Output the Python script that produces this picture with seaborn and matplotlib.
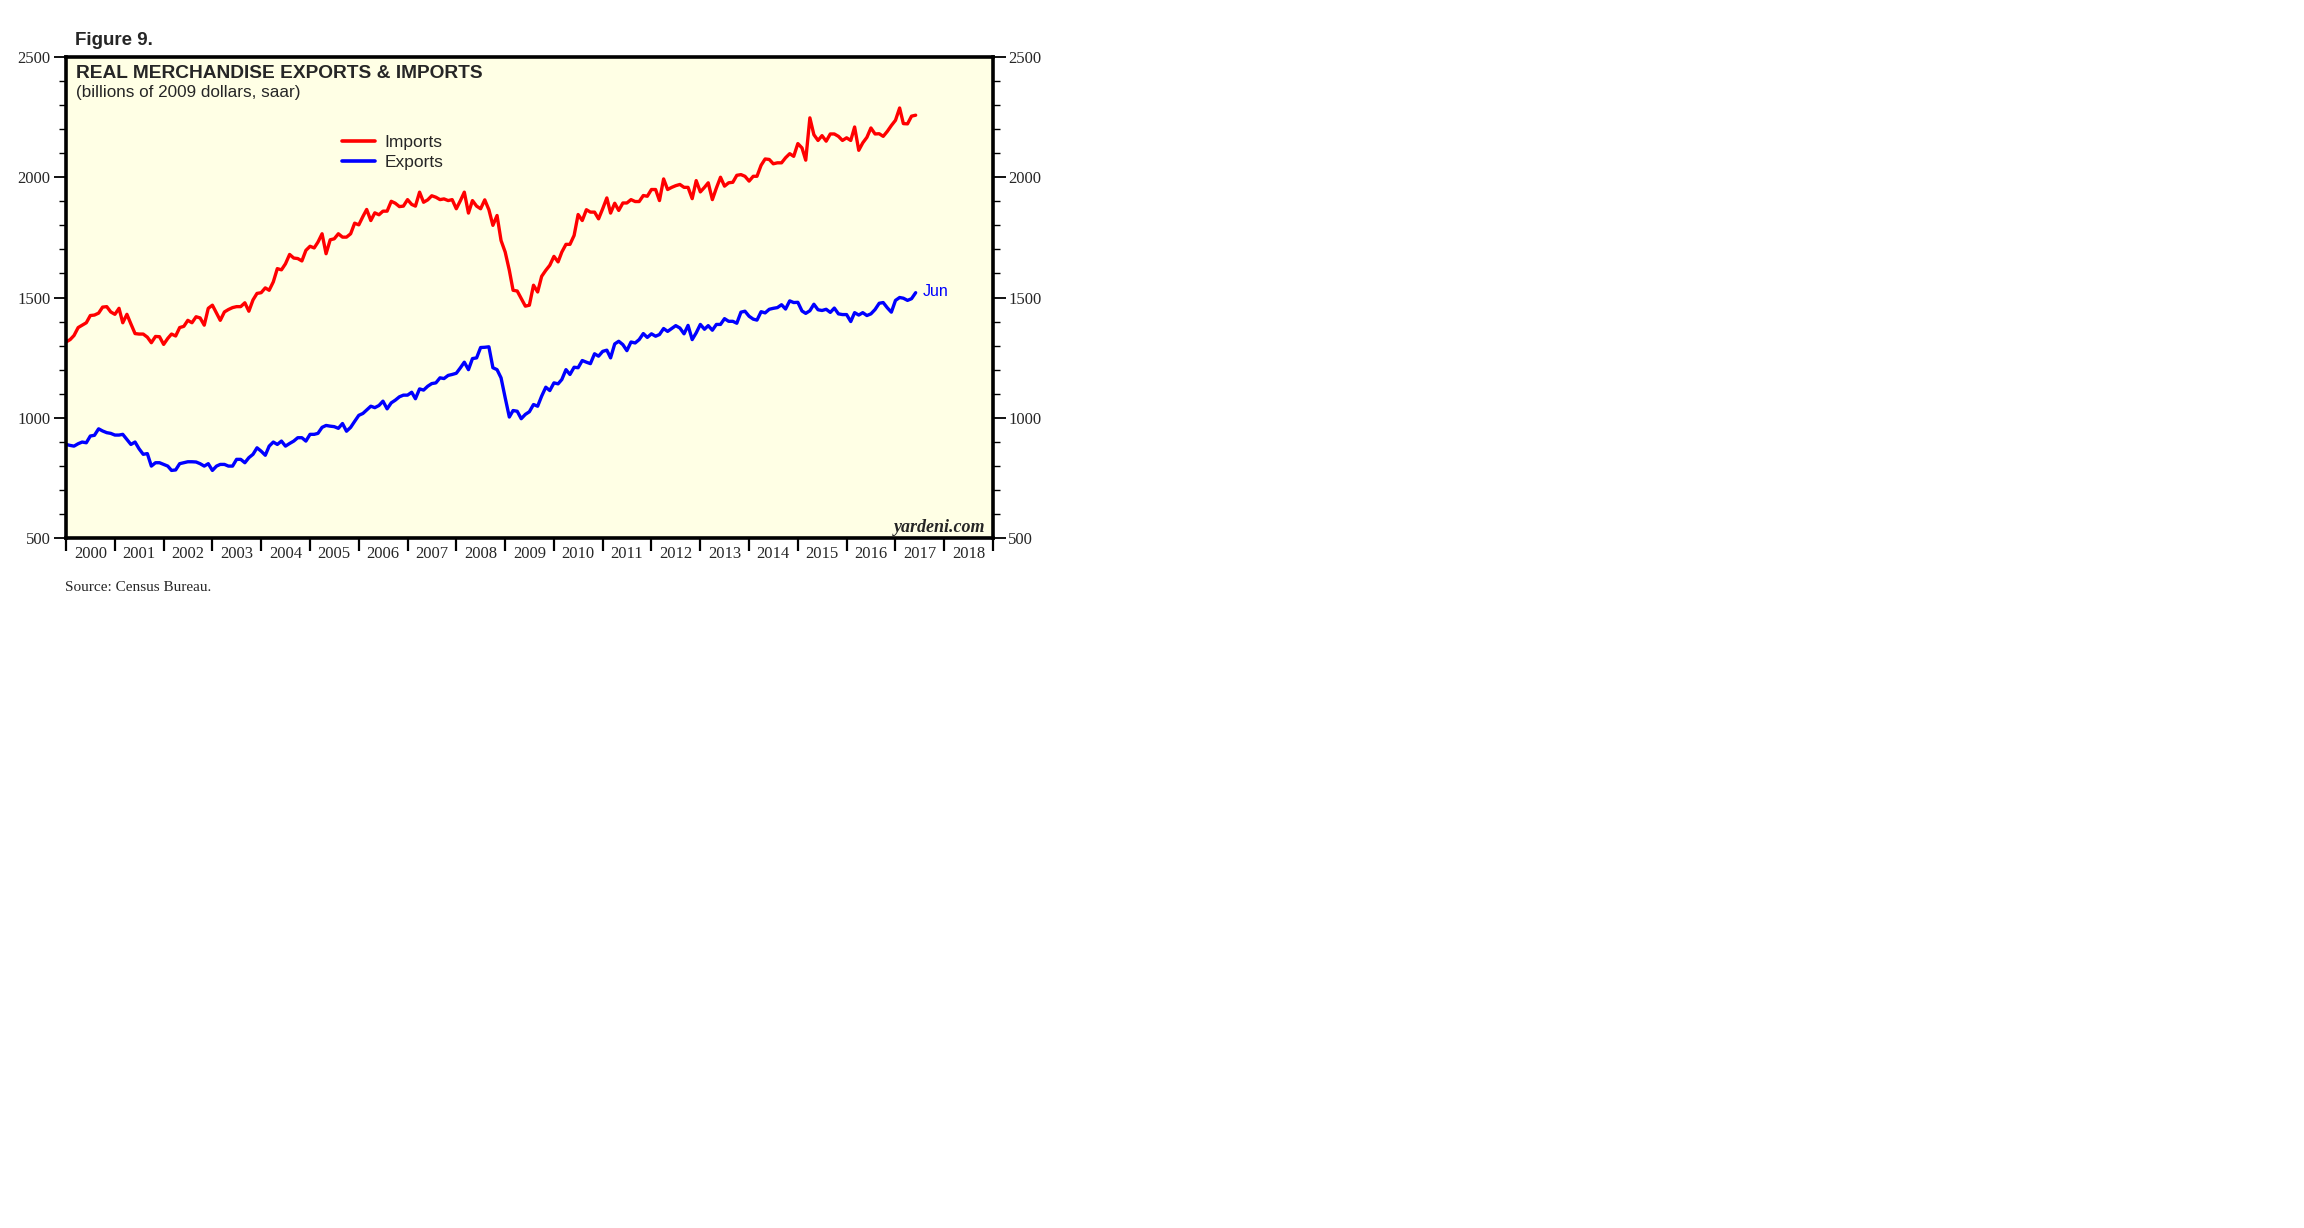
import pandas as pd
import seaborn as sns
import matplotlib.pyplot as plt
import matplotlib.dates as mdates
from matplotlib.ticker import MultipleLocator, NullFormatter

# monthly data, Jan 2000 - Jun 2017 (billions of 2009 dollars, saar)
months = pd.date_range('2000-01-01', '2017-06-01', freq='MS')

imports = [
    1315, 1325, 1342, 1375, 1385, 1395, 1425, 1427, 1435, 1460, 1462, 1440,  # 2000
    1430, 1455, 1395, 1430, 1390, 1350, 1348, 1348, 1335, 1312, 1338, 1337,  # 2001
    1305, 1330, 1348, 1340, 1375, 1380, 1405, 1395, 1420, 1415, 1385, 1455,  # 2002
    1468, 1435, 1405, 1440, 1450, 1458, 1462, 1462, 1478, 1443, 1490, 1517,  # 2003
    1520, 1540, 1530, 1565, 1620, 1615, 1640, 1679, 1664, 1662, 1652, 1696,  # 2004
    1713, 1706, 1730, 1765, 1682, 1740, 1744, 1765, 1751, 1751, 1765, 1809,  # 2005
    1802, 1837, 1866, 1820, 1852, 1844, 1859, 1859, 1900, 1892, 1878, 1880,  # 2006
    1907, 1887, 1880, 1938, 1896, 1906, 1923, 1917, 1907, 1910, 1903, 1907,  # 2007
    1869, 1903, 1938, 1851, 1903, 1880, 1869, 1906, 1865, 1800, 1841, 1737,  # 2008
    1689, 1613, 1530, 1527, 1496, 1464, 1468, 1551, 1523, 1588, 1613, 1634,  # 2009
    1671, 1648, 1689, 1721, 1721, 1758, 1845, 1820, 1865, 1855, 1855, 1827,  # 2010
    1869, 1914, 1851, 1892, 1862, 1893, 1893, 1907, 1899, 1899, 1924, 1921,  # 2011
    1949, 1949, 1903, 1993, 1949, 1958, 1965, 1970, 1958, 1958, 1911, 1986,  # 2012
    1939, 1958, 1977, 1907, 1955, 2000, 1963, 1977, 1979, 2008, 2011, 2004,  # 2013
    1984, 2004, 2004, 2050, 2076, 2074, 2056, 2060, 2060, 2081, 2098, 2087,  # 2014
    2140, 2122, 2071, 2247, 2177, 2153, 2173, 2150, 2180, 2180, 2170, 2153,  # 2015
    2164, 2153, 2209, 2112, 2143, 2166, 2205, 2180, 2181, 2170, 2191, 2215,  # 2016
    2237, 2288, 2223, 2222, 2254, 2258,                                      # 2017
]

exports = [
    889, 885, 882, 892, 899, 896, 924, 927, 954, 945, 938, 935,              # 2000
    928, 928, 931, 910, 889, 899, 871, 848, 851, 799, 813, 813,              # 2001
    806, 799, 781, 783, 809, 813, 817, 817, 816, 809, 799, 809,              # 2002
    781, 799, 806, 806, 799, 799, 827, 827, 813, 834, 848, 875,              # 2003
    861, 844, 882, 899, 889, 903, 882, 893, 903, 917, 917, 903,              # 2004
    931, 931, 935, 960, 968, 965, 963, 956, 976, 944, 960, 985,              # 2005
    1010, 1018, 1032, 1048, 1042, 1051, 1069, 1037, 1062, 1073, 1087, 1094,  # 2006
    1094, 1106, 1079, 1120, 1115, 1131, 1142, 1145, 1166, 1163, 1176, 1180,  # 2007
    1185, 1208, 1231, 1200, 1246, 1249, 1292, 1293, 1295, 1208, 1200, 1166,  # 2008
    1083, 1003, 1030, 1027, 996, 1014, 1025, 1055, 1048, 1090, 1127, 1113,   # 2009
    1145, 1141, 1159, 1200, 1180, 1210, 1208, 1238, 1231, 1225, 1266, 1256,  # 2010
    1276, 1281, 1249, 1307, 1318, 1304, 1279, 1315, 1311, 1325, 1350, 1334,  # 2011
    1349, 1339, 1346, 1371, 1359, 1371, 1383, 1373, 1349, 1384, 1325, 1353,  # 2012
    1388, 1368, 1383, 1364, 1388, 1388, 1412, 1401, 1401, 1393, 1439, 1443,  # 2013
    1422, 1410, 1406, 1441, 1436, 1451, 1455, 1458, 1470, 1452, 1486, 1479,  # 2014
    1480, 1444, 1434, 1445, 1472, 1449, 1446, 1451, 1438, 1456, 1432, 1429,  # 2015
    1429, 1400, 1437, 1427, 1437, 1425, 1432, 1450, 1476, 1479, 1457, 1439,  # 2016
    1488, 1500, 1497, 1488, 1495, 1520,                                      # 2017
]

df = pd.DataFrame({'date': months, 'Imports': imports, 'Exports': exports})
long = df.melt(id_vars='date', var_name='series', value_name='value')

sns.set_style('ticks')
plt.rcParams['font.family'] = ['Liberation Serif', 'DejaVu Serif']
sans = ['Liberation Sans', 'DejaVu Sans']

W, H = 2304, 1228
fig = plt.figure(figsize=(W / 100, H / 100), dpi=100)
ax = fig.add_axes([66 / W, 1 - 538 / H, 927 / W, 481 / H])
ax.set_facecolor('#FFFFE5')

sns.lineplot(data=long, x='date', y='value', hue='series',
             palette={'Imports': '#FF0000', 'Exports': '#0000FF'},
             linewidth=2.4, ax=ax)

ax.set_xlim(pd.Timestamp('2000-01-01'), pd.Timestamp('2019-01-01'))
ax.set_ylim(500, 2500)
ax.set_xlabel('')
ax.set_ylabel('')

ax.xaxis.set_major_locator(mdates.YearLocator())
ax.xaxis.set_major_formatter(NullFormatter())
ax.xaxis.set_minor_locator(mdates.MonthLocator(bymonth=7, bymonthday=1))
ax.xaxis.set_minor_formatter(mdates.DateFormatter('%Y'))
ax.tick_params(axis='x', which='major', length=9, width=1.6, direction='out', color='black')
ax.tick_params(axis='x', which='minor', length=0, pad=6, labelsize=12)

ax.yaxis.set_major_locator(MultipleLocator(500))
ax.yaxis.set_minor_locator(MultipleLocator(100))
ax.tick_params(axis='y', which='both', left=True, right=True,
               labelleft=True, labelright=True, direction='out',
               labelsize=12, color='black')
ax.tick_params(axis='y', which='major', length=9, width=1.3, pad=2)
ax.tick_params(axis='y', which='minor', length=5, width=1.0)

for sp in ax.spines.values():
    sp.set_linewidth(2.6)
    sp.set_color('black')

handles, labels = ax.get_legend_handles_labels()
leg = ax.legend(handles, labels, loc='upper left', bbox_to_anchor=(0.298, 0.838),
                frameon=False, borderaxespad=0, borderpad=0,
                handlelength=1.9, handletextpad=0.55, labelspacing=0.3,
                prop={'family': sans, 'size': 12.5})
for line in leg.get_lines():
    line.set_linewidth(2.6)

ax.text(0.0108, 0.956, 'REAL MERCHANDISE EXPORTS & IMPORTS', transform=ax.transAxes,
        family=sans, fontsize=13.8, fontweight='bold', va='baseline', ha='left')
ax.text(0.0108, 0.917, '(billions of 2009 dollars, saar)', transform=ax.transAxes,
        family=sans, fontsize=12.3, va='baseline', ha='left')
ax.text(0.992, 0.013, 'yardeni.com', transform=ax.transAxes, fontsize=13,
        fontweight='bold', fontstyle='italic', va='baseline', ha='right')

ax.annotate('Jun', xy=(months[-1], exports[-1]), xytext=(5, 1),
            textcoords='offset points', va='center', ha='left',
            color='#0000FF', family=sans, fontsize=11.5)

fig.text(75 / W, 1 - 45 / H, 'Figure 9.', family=sans, fontsize=13.5,
         fontweight='bold', va='baseline', ha='left')
fig.text(65 / W, 1 - 591 / H, 'Source: Census Bureau.', fontsize=11,
         va='baseline', ha='left')

fig.savefig('out.png', dpi=100, facecolor='white')
